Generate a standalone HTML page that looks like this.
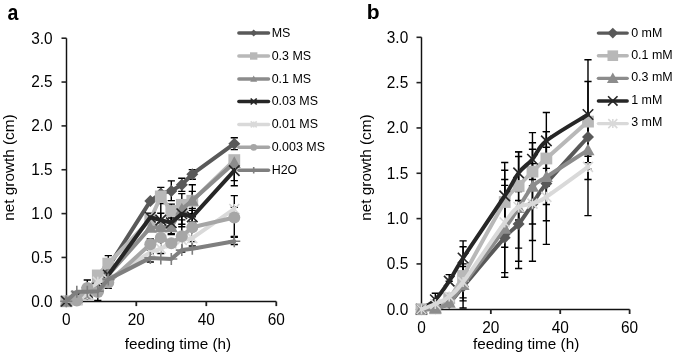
<!DOCTYPE html>
<html><head><meta charset="utf-8"><style>
html,body{margin:0;padding:0;background:#fff;width:685px;height:354px;overflow:hidden}
svg{display:block;will-change:transform}
</style></head><body>
<svg width="685" height="354" viewBox="0 0 685 354" font-family='"Liberation Sans", sans-serif' fill="#000">
<text transform="translate(7.5,19.75) scale(0.93,1.09)" font-size="21" font-weight="bold">a</text>
<text x="366.7" y="19.2" font-size="21" font-weight="bold">b</text>
<path d="M66.5,38.20V301.5H276.30" stroke="#111" stroke-width="1.45" fill="none"/>
<path d="M61.5,301.30H66.5" stroke="#222" stroke-width="1.6"/>
<text transform="translate(52.6,306.60) scale(1,1.07)" text-anchor="end" font-size="15.4">0.0</text>
<path d="M61.5,257.45H66.5" stroke="#222" stroke-width="1.6"/>
<text transform="translate(52.6,262.75) scale(1,1.07)" text-anchor="end" font-size="15.4">0.5</text>
<path d="M61.5,213.60H66.5" stroke="#222" stroke-width="1.6"/>
<text transform="translate(52.6,218.90) scale(1,1.07)" text-anchor="end" font-size="15.4">1.0</text>
<path d="M61.5,169.75H66.5" stroke="#222" stroke-width="1.6"/>
<text transform="translate(52.6,175.05) scale(1,1.07)" text-anchor="end" font-size="15.4">1.5</text>
<path d="M61.5,125.90H66.5" stroke="#222" stroke-width="1.6"/>
<text transform="translate(52.6,131.20) scale(1,1.07)" text-anchor="end" font-size="15.4">2.0</text>
<path d="M61.5,82.05H66.5" stroke="#222" stroke-width="1.6"/>
<text transform="translate(52.6,87.35) scale(1,1.07)" text-anchor="end" font-size="15.4">2.5</text>
<path d="M61.5,38.20H66.5" stroke="#222" stroke-width="1.6"/>
<text transform="translate(52.6,43.50) scale(1,1.07)" text-anchor="end" font-size="15.4">3.0</text>
<path d="M66.30,301.5V306.1" stroke="#222" stroke-width="1.8"/>
<text transform="translate(66.30,325.10) scale(1,1.07)" text-anchor="middle" font-size="15.4">0</text>
<path d="M136.30,301.5V306.1" stroke="#222" stroke-width="1.8"/>
<text transform="translate(136.30,325.10) scale(1,1.07)" text-anchor="middle" font-size="15.4">20</text>
<path d="M206.30,301.5V306.1" stroke="#222" stroke-width="1.8"/>
<text transform="translate(206.30,325.10) scale(1,1.07)" text-anchor="middle" font-size="15.4">40</text>
<path d="M276.30,301.5V306.1" stroke="#222" stroke-width="1.8"/>
<text transform="translate(276.30,325.10) scale(1,1.07)" text-anchor="middle" font-size="15.4">60</text>
<path d="M87.30,280.00V293.00M83.70,280.00H90.90M83.70,293.00H90.90" stroke="#000" stroke-width="1.4" fill="none"/>
<path d="M97.80,293.00V300.40M94.20,293.00H101.40M94.20,300.40H101.40" stroke="#000" stroke-width="1.4" fill="none"/>
<path d="M108.30,255.60V271.60M104.70,255.60H111.90M104.70,271.60H111.90" stroke="#000" stroke-width="1.4" fill="none"/>
<path d="M108.30,276.00V288.40M104.70,276.00H111.90M104.70,288.40H111.90" stroke="#000" stroke-width="1.4" fill="none"/>
<path d="M150.30,239.00V250.10M146.70,239.00H153.90M146.70,250.10H153.90" stroke="#000" stroke-width="1.4" fill="none"/>
<path d="M150.30,254.00V262.00M146.70,254.00H153.90M146.70,262.00H153.90" stroke="#000" stroke-width="1.4" fill="none"/>
<path d="M150.30,213.30V221.30M146.70,213.30H153.90M146.70,221.30H153.90" stroke="#000" stroke-width="1.4" fill="none"/>
<path d="M160.80,187.40V199.60M157.20,187.40H164.40M157.20,199.60H164.40" stroke="#000" stroke-width="1.4" fill="none"/>
<path d="M160.80,203.50V236.90M157.20,203.50H164.40M157.20,236.90H164.40" stroke="#000" stroke-width="1.4" fill="none"/>
<path d="M160.80,213.30V240.10M157.20,213.30H164.40M157.20,240.10H164.40" stroke="#000" stroke-width="1.4" fill="none"/>
<path d="M160.80,222.70V253.50M157.20,222.70H164.40M157.20,253.50H164.40" stroke="#000" stroke-width="1.4" fill="none"/>
<path d="M171.30,180.90V200.60M167.70,180.90H174.90M167.70,200.60H174.90" stroke="#000" stroke-width="1.4" fill="none"/>
<path d="M171.30,204.10V222.00M167.70,204.10H174.90M167.70,222.00H174.90" stroke="#000" stroke-width="1.4" fill="none"/>
<path d="M171.30,211.70V233.70M167.70,211.70H174.90M167.70,233.70H174.90" stroke="#000" stroke-width="1.4" fill="none"/>
<path d="M171.30,218.00V234.50M167.70,218.00H174.90M167.70,234.50H174.90" stroke="#000" stroke-width="1.4" fill="none"/>
<path d="M181.80,178.30V191.40M178.20,178.30H185.40M178.20,191.40H185.40" stroke="#000" stroke-width="1.4" fill="none"/>
<path d="M181.80,193.60V216.00M178.20,193.60H185.40M178.20,216.00H185.40" stroke="#000" stroke-width="1.4" fill="none"/>
<path d="M181.80,203.00V224.20M178.20,203.00H185.40M178.20,224.20H185.40" stroke="#000" stroke-width="1.4" fill="none"/>
<path d="M181.80,206.00V226.70M178.20,206.00H185.40M178.20,226.70H185.40" stroke="#000" stroke-width="1.4" fill="none"/>
<path d="M181.80,219.90V252.00M178.20,219.90H185.40M178.20,252.00H185.40" stroke="#000" stroke-width="1.4" fill="none"/>
<path d="M192.30,169.60V179.30M188.70,169.60H195.90M188.70,179.30H195.90" stroke="#000" stroke-width="1.4" fill="none"/>
<path d="M192.30,184.80V216.80M188.70,184.80H195.90M188.70,216.80H195.90" stroke="#000" stroke-width="1.4" fill="none"/>
<path d="M192.30,191.40V205.00M188.70,191.40H195.90M188.70,205.00H195.90" stroke="#000" stroke-width="1.4" fill="none"/>
<path d="M192.30,208.40V224.80M188.70,208.40H195.90M188.70,224.80H195.90" stroke="#000" stroke-width="1.4" fill="none"/>
<path d="M192.30,210.40V222.00M188.70,210.40H195.90M188.70,222.00H195.90" stroke="#000" stroke-width="1.4" fill="none"/>
<path d="M192.30,213.60V241.60M188.70,213.60H195.90M188.70,241.60H195.90" stroke="#000" stroke-width="1.4" fill="none"/>
<path d="M192.30,226.00V246.00M188.70,226.00H195.90M188.70,246.00H195.90" stroke="#000" stroke-width="1.4" fill="none"/>
<path d="M234.30,137.70V149.60M230.70,137.70H237.90M230.70,149.60H237.90" stroke="#000" stroke-width="1.4" fill="none"/>
<path d="M234.30,159.60V180.60M230.70,159.60H237.90M230.70,180.60H237.90" stroke="#000" stroke-width="1.4" fill="none"/>
<path d="M234.30,166.00V185.80M230.70,166.00H237.90M230.70,185.80H237.90" stroke="#000" stroke-width="1.4" fill="none"/>
<path d="M234.30,195.60V237.30M230.70,195.60H237.90M230.70,237.30H237.90" stroke="#000" stroke-width="1.4" fill="none"/>
<path d="M234.30,207.30V207.30M230.70,207.30H237.90M230.70,207.30H237.90" stroke="#000" stroke-width="1.4" fill="none"/>
<path d="M234.30,236.50V244.50M230.70,236.50H237.90M230.70,244.50H237.90" stroke="#000" stroke-width="1.4" fill="none"/>
<path d="M66.30,301.30L76.80,296.92L87.30,294.28L97.80,283.76L108.30,267.10L150.30,201.06L160.80,193.43L171.30,190.89L181.80,184.66L192.30,174.22L234.30,143.70" stroke="#595959" stroke-width="4" fill="none" stroke-linejoin="round" stroke-linecap="round"/>
<path d="M66.30,295.30L72.30,301.30L66.30,307.30L60.30,301.30Z" fill="#595959"/>
<path d="M76.80,290.92L82.80,296.92L76.80,302.92L70.80,296.92Z" fill="#595959"/>
<path d="M87.30,288.28L93.30,294.28L87.30,300.28L81.30,294.28Z" fill="#595959"/>
<path d="M97.80,277.76L103.80,283.76L97.80,289.76L91.80,283.76Z" fill="#595959"/>
<path d="M108.30,261.10L114.30,267.10L108.30,273.10L102.30,267.10Z" fill="#595959"/>
<path d="M150.30,195.06L156.30,201.06L150.30,207.06L144.30,201.06Z" fill="#595959"/>
<path d="M160.80,187.43L166.80,193.43L160.80,199.43L154.80,193.43Z" fill="#595959"/>
<path d="M171.30,184.89L177.30,190.89L171.30,196.89L165.30,190.89Z" fill="#595959"/>
<path d="M181.80,178.66L187.80,184.66L181.80,190.66L175.80,184.66Z" fill="#595959"/>
<path d="M192.30,168.22L198.30,174.22L192.30,180.22L186.30,174.22Z" fill="#595959"/>
<path d="M234.30,137.70L240.30,143.70L234.30,149.70L228.30,143.70Z" fill="#595959"/>
<path d="M66.30,301.30L76.80,299.55L87.30,292.53L97.80,275.43L108.30,263.59L150.30,219.74L160.80,196.41L171.30,210.97L181.80,204.83L192.30,200.80L234.30,160.10" stroke="#B8B8B8" stroke-width="4" fill="none" stroke-linejoin="round" stroke-linecap="round"/>
<rect x="60.40" y="295.40" width="11.80" height="11.80" fill="#B8B8B8"/>
<rect x="70.90" y="293.65" width="11.80" height="11.80" fill="#B8B8B8"/>
<rect x="81.40" y="286.63" width="11.80" height="11.80" fill="#B8B8B8"/>
<rect x="91.90" y="269.53" width="11.80" height="11.80" fill="#B8B8B8"/>
<rect x="102.40" y="257.69" width="11.80" height="11.80" fill="#B8B8B8"/>
<rect x="144.40" y="213.84" width="11.80" height="11.80" fill="#B8B8B8"/>
<rect x="154.90" y="190.51" width="11.80" height="11.80" fill="#B8B8B8"/>
<rect x="165.40" y="205.07" width="11.80" height="11.80" fill="#B8B8B8"/>
<rect x="175.90" y="198.93" width="11.80" height="11.80" fill="#B8B8B8"/>
<rect x="186.40" y="194.90" width="11.80" height="11.80" fill="#B8B8B8"/>
<rect x="228.40" y="154.20" width="11.80" height="11.80" fill="#B8B8B8"/>
<path d="M66.30,301.30L76.80,297.79L87.30,294.28L97.80,285.51L108.30,274.99L150.30,227.63L160.80,226.93L171.30,226.93L181.80,209.22L192.30,200.45L234.30,162.73" stroke="#8C8C8C" stroke-width="4" fill="none" stroke-linejoin="round" stroke-linecap="round"/>
<path d="M66.30,294.80L72.80,306.50L59.80,306.50Z" fill="#8C8C8C"/>
<path d="M76.80,291.29L83.30,302.99L70.30,302.99Z" fill="#8C8C8C"/>
<path d="M87.30,287.78L93.80,299.48L80.80,299.48Z" fill="#8C8C8C"/>
<path d="M97.80,279.01L104.30,290.71L91.30,290.71Z" fill="#8C8C8C"/>
<path d="M108.30,268.49L114.80,280.19L101.80,280.19Z" fill="#8C8C8C"/>
<path d="M150.30,221.13L156.80,232.83L143.80,232.83Z" fill="#8C8C8C"/>
<path d="M160.80,220.43L167.30,232.13L154.30,232.13Z" fill="#8C8C8C"/>
<path d="M171.30,220.43L177.80,232.13L164.80,232.13Z" fill="#8C8C8C"/>
<path d="M181.80,202.72L188.30,214.41L175.30,214.41Z" fill="#8C8C8C"/>
<path d="M192.30,193.95L198.80,205.65L185.80,205.65Z" fill="#8C8C8C"/>
<path d="M234.30,156.23L240.80,167.93L227.80,167.93Z" fill="#8C8C8C"/>
<path d="M66.30,301.30L76.80,296.04L87.30,292.53L97.80,288.15L108.30,274.99L150.30,217.28L160.80,220.18L171.30,222.72L181.80,213.78L192.30,216.84L234.30,170.63" stroke="#262626" stroke-width="4" fill="none" stroke-linejoin="round" stroke-linecap="round"/>
<path d="M61.05,296.05L71.55,306.55M71.55,296.05L61.05,306.55" stroke="#262626" stroke-width="1.6" fill="none"/>
<path d="M71.55,290.79L82.05,301.29M82.05,290.79L71.55,301.29" stroke="#262626" stroke-width="1.6" fill="none"/>
<path d="M82.05,287.28L92.55,297.78M92.55,287.28L82.05,297.78" stroke="#262626" stroke-width="1.6" fill="none"/>
<path d="M92.55,282.90L103.05,293.40M103.05,282.90L92.55,293.40" stroke="#262626" stroke-width="1.6" fill="none"/>
<path d="M103.05,269.74L113.55,280.24M113.55,269.74L103.05,280.24" stroke="#262626" stroke-width="1.6" fill="none"/>
<path d="M145.05,212.03L155.55,222.53M155.55,212.03L145.05,222.53" stroke="#262626" stroke-width="1.6" fill="none"/>
<path d="M155.55,214.93L166.05,225.43M166.05,214.93L155.55,225.43" stroke="#262626" stroke-width="1.6" fill="none"/>
<path d="M166.05,217.47L176.55,227.97M176.55,217.47L166.05,227.97" stroke="#262626" stroke-width="1.6" fill="none"/>
<path d="M176.55,208.53L187.05,219.03M187.05,208.53L176.55,219.03" stroke="#262626" stroke-width="1.6" fill="none"/>
<path d="M187.05,211.59L197.55,222.09M197.55,211.59L187.05,222.09" stroke="#262626" stroke-width="1.6" fill="none"/>
<path d="M229.05,165.38L239.55,175.88M239.55,165.38L229.05,175.88" stroke="#262626" stroke-width="1.6" fill="none"/>
<path d="M66.30,301.30L76.80,299.55L87.30,294.28L97.80,281.74L108.30,279.38L150.30,252.19L160.80,248.68L171.30,243.42L181.80,239.91L192.30,238.16L234.30,208.95" stroke="#D9D9D9" stroke-width="4" fill="none" stroke-linejoin="round" stroke-linecap="round"/>
<path d="M71.80,294.55L81.80,304.55M81.80,294.55L71.80,304.55M76.80,294.55L76.80,304.55" stroke="#D9D9D9" stroke-width="1.6" fill="none"/>
<path d="M82.30,289.28L92.30,299.28M92.30,289.28L82.30,299.28M87.30,289.28L87.30,299.28" stroke="#D9D9D9" stroke-width="1.6" fill="none"/>
<path d="M92.80,276.74L102.80,286.74M102.80,276.74L92.80,286.74M97.80,276.74L97.80,286.74" stroke="#D9D9D9" stroke-width="1.6" fill="none"/>
<path d="M103.30,274.38L113.30,284.38M113.30,274.38L103.30,284.38M108.30,274.38L108.30,284.38" stroke="#D9D9D9" stroke-width="1.6" fill="none"/>
<path d="M145.30,247.19L155.30,257.19M155.30,247.19L145.30,257.19M150.30,247.19L150.30,257.19" stroke="#D9D9D9" stroke-width="1.6" fill="none"/>
<path d="M155.80,243.68L165.80,253.68M165.80,243.68L155.80,253.68M160.80,243.68L160.80,253.68" stroke="#D9D9D9" stroke-width="1.6" fill="none"/>
<path d="M166.30,238.42L176.30,248.42M176.30,238.42L166.30,248.42M171.30,238.42L171.30,248.42" stroke="#D9D9D9" stroke-width="1.6" fill="none"/>
<path d="M176.80,234.91L186.80,244.91M186.80,234.91L176.80,244.91M181.80,234.91L181.80,244.91" stroke="#D9D9D9" stroke-width="1.6" fill="none"/>
<path d="M187.30,233.16L197.30,243.16M197.30,233.16L187.30,243.16M192.30,233.16L192.30,243.16" stroke="#D9D9D9" stroke-width="1.6" fill="none"/>
<path d="M229.30,203.95L239.30,213.95M239.30,203.95L229.30,213.95M234.30,203.95L234.30,213.95" stroke="#D9D9D9" stroke-width="1.6" fill="none"/>
<path d="M66.30,301.30L76.80,300.42L87.30,287.88L97.80,292.00L108.30,282.53L150.30,244.21L160.80,237.63L171.30,243.24L181.80,236.23L192.30,227.28L234.30,217.55" stroke="#A6A6A6" stroke-width="4" fill="none" stroke-linejoin="round" stroke-linecap="round"/>
<circle cx="76.80" cy="300.42" r="6.00" fill="#A6A6A6"/>
<circle cx="87.30" cy="287.88" r="6.00" fill="#A6A6A6"/>
<circle cx="97.80" cy="292.00" r="6.00" fill="#A6A6A6"/>
<circle cx="108.30" cy="282.53" r="6.00" fill="#A6A6A6"/>
<circle cx="150.30" cy="244.21" r="6.00" fill="#A6A6A6"/>
<circle cx="160.80" cy="237.63" r="6.00" fill="#A6A6A6"/>
<circle cx="171.30" cy="243.24" r="6.00" fill="#A6A6A6"/>
<circle cx="181.80" cy="236.23" r="6.00" fill="#A6A6A6"/>
<circle cx="192.30" cy="227.28" r="6.00" fill="#A6A6A6"/>
<circle cx="234.30" cy="217.55" r="6.00" fill="#A6A6A6"/>
<path d="M66.30,301.30L76.80,291.65L87.30,291.65L97.80,291.21L108.30,279.38L150.30,257.89L160.80,258.50L171.30,258.94L181.80,250.08L192.30,248.68L234.30,241.23" stroke="#7F7F7F" stroke-width="4" fill="none" stroke-linejoin="round" stroke-linecap="round"/>
<path d="M60.30,301.30L72.30,301.30M66.30,295.30L66.30,307.30" stroke="#7F7F7F" stroke-width="1.6" fill="none"/>
<path d="M70.80,291.65L82.80,291.65M76.80,285.65L76.80,297.65" stroke="#7F7F7F" stroke-width="1.6" fill="none"/>
<path d="M81.30,291.65L93.30,291.65M87.30,285.65L87.30,297.65" stroke="#7F7F7F" stroke-width="1.6" fill="none"/>
<path d="M91.80,291.21L103.80,291.21M97.80,285.21L97.80,297.21" stroke="#7F7F7F" stroke-width="1.6" fill="none"/>
<path d="M102.30,279.38L114.30,279.38M108.30,273.38L108.30,285.38" stroke="#7F7F7F" stroke-width="1.6" fill="none"/>
<path d="M144.30,257.89L156.30,257.89M150.30,251.89L150.30,263.89" stroke="#7F7F7F" stroke-width="1.6" fill="none"/>
<path d="M154.80,258.50L166.80,258.50M160.80,252.50L160.80,264.50" stroke="#7F7F7F" stroke-width="1.6" fill="none"/>
<path d="M165.30,258.94L177.30,258.94M171.30,252.94L171.30,264.94" stroke="#7F7F7F" stroke-width="1.6" fill="none"/>
<path d="M175.80,250.08L187.80,250.08M181.80,244.08L181.80,256.08" stroke="#7F7F7F" stroke-width="1.6" fill="none"/>
<path d="M186.30,248.68L198.30,248.68M192.30,242.68L192.30,254.68" stroke="#7F7F7F" stroke-width="1.6" fill="none"/>
<path d="M228.30,241.23L240.30,241.23M234.30,235.23L234.30,247.23" stroke="#7F7F7F" stroke-width="1.6" fill="none"/>
<path d="M238.9,33H268.5" stroke="#595959" stroke-width="3.5" stroke-linecap="round"/>
<path d="M253.70,29.50L257.20,33.00L253.70,36.50L250.20,33.00Z" fill="#595959"/>
<text x="271.7" y="36.70" font-size="12.45">MS</text>
<path d="M238.9,56H268.5" stroke="#B8B8B8" stroke-width="3.5" stroke-linecap="round"/>
<rect x="250.00" y="52.30" width="7.40" height="7.40" fill="#B8B8B8"/>
<text x="271.7" y="59.70" font-size="12.45">0.3 MS</text>
<path d="M238.9,79H268.5" stroke="#8C8C8C" stroke-width="3.5" stroke-linecap="round"/>
<path d="M253.70,75.50L257.20,81.80L250.20,81.80Z" fill="#8C8C8C"/>
<text x="271.7" y="82.70" font-size="12.45">0.1 MS</text>
<path d="M238.9,101.5H268.5" stroke="#262626" stroke-width="3.5" stroke-linecap="round"/>
<path d="M250.70,98.50L256.70,104.50M256.70,98.50L250.70,104.50" stroke="#262626" stroke-width="1.6" fill="none"/>
<text x="271.7" y="105.20" font-size="12.45">0.03 MS</text>
<path d="M238.9,124.4H268.5" stroke="#D9D9D9" stroke-width="3.5" stroke-linecap="round"/>
<path d="M250.70,121.40L256.70,127.40M256.70,121.40L250.70,127.40M253.70,121.40L253.70,127.40" stroke="#D9D9D9" stroke-width="1.6" fill="none"/>
<text x="271.7" y="128.10" font-size="12.45">0.01 MS</text>
<path d="M238.9,147.3H268.5" stroke="#A6A6A6" stroke-width="3.5" stroke-linecap="round"/>
<circle cx="253.70" cy="147.30" r="3.40" fill="#A6A6A6"/>
<text x="271.7" y="151.00" font-size="12.45">0.003 MS</text>
<path d="M238.9,170.2H268.5" stroke="#7F7F7F" stroke-width="3.5" stroke-linecap="round"/>
<path d="M250.45,170.20L256.95,170.20M253.70,166.95L253.70,173.45" stroke="#7F7F7F" stroke-width="1.6" fill="none"/>
<text x="271.7" y="173.90" font-size="12.45">H2O</text>
<text x="178" y="349" text-anchor="middle" font-size="15.3">feeding time (h)</text>
<text transform="translate(13.5,167.6) rotate(-90)" text-anchor="middle" font-size="15.3">net growth (cm)</text>
<path d="M421.5,37.30V309.4H629.62" stroke="#111" stroke-width="1.45" fill="none"/>
<path d="M416.5,309.25H421.5" stroke="#222" stroke-width="1.6"/>
<text transform="translate(408.2,314.55) scale(1,1.07)" text-anchor="end" font-size="15.4">0.0</text>
<path d="M416.5,263.93H421.5" stroke="#222" stroke-width="1.6"/>
<text transform="translate(408.2,269.23) scale(1,1.07)" text-anchor="end" font-size="15.4">0.5</text>
<path d="M416.5,218.60H421.5" stroke="#222" stroke-width="1.6"/>
<text transform="translate(408.2,223.90) scale(1,1.07)" text-anchor="end" font-size="15.4">1.0</text>
<path d="M416.5,173.27H421.5" stroke="#222" stroke-width="1.6"/>
<text transform="translate(408.2,178.57) scale(1,1.07)" text-anchor="end" font-size="15.4">1.5</text>
<path d="M416.5,127.95H421.5" stroke="#222" stroke-width="1.6"/>
<text transform="translate(408.2,133.25) scale(1,1.07)" text-anchor="end" font-size="15.4">2.0</text>
<path d="M416.5,82.62H421.5" stroke="#222" stroke-width="1.6"/>
<text transform="translate(408.2,87.92) scale(1,1.07)" text-anchor="end" font-size="15.4">2.5</text>
<path d="M416.5,37.30H421.5" stroke="#222" stroke-width="1.6"/>
<text transform="translate(408.2,42.60) scale(1,1.07)" text-anchor="end" font-size="15.4">3.0</text>
<path d="M421.45,309.4V314.0" stroke="#222" stroke-width="1.8"/>
<text transform="translate(421.45,333.05) scale(1,1.07)" text-anchor="middle" font-size="15.4">0</text>
<path d="M490.84,309.4V314.0" stroke="#222" stroke-width="1.8"/>
<text transform="translate(490.84,333.05) scale(1,1.07)" text-anchor="middle" font-size="15.4">20</text>
<path d="M560.23,309.4V314.0" stroke="#222" stroke-width="1.8"/>
<text transform="translate(560.23,333.05) scale(1,1.07)" text-anchor="middle" font-size="15.4">40</text>
<path d="M629.62,309.4V314.0" stroke="#222" stroke-width="1.8"/>
<text transform="translate(629.62,333.05) scale(1,1.07)" text-anchor="middle" font-size="15.4">60</text>
<path d="M435.33,293.30V303.70M431.73,293.30H438.93M431.73,303.70H438.93" stroke="#000" stroke-width="1.4" fill="none"/>
<path d="M449.21,274.60V281.20M445.61,274.60H452.81M445.61,281.20H452.81" stroke="#000" stroke-width="1.4" fill="none"/>
<path d="M463.08,240.90V275.30M459.48,240.90H466.68M459.48,275.30H466.68" stroke="#000" stroke-width="1.4" fill="none"/>
<path d="M463.08,246.80V300.90M459.48,246.80H466.68M459.48,300.90H466.68" stroke="#000" stroke-width="1.4" fill="none"/>
<path d="M463.08,263.90V297.90M459.48,263.90H466.68M459.48,297.90H466.68" stroke="#000" stroke-width="1.4" fill="none"/>
<path d="M463.08,266.50V308.00M459.48,266.50H466.68M459.48,308.00H466.68" stroke="#000" stroke-width="1.4" fill="none"/>
<path d="M504.72,162.50V229.30M501.12,162.50H508.32M501.12,229.30H508.32" stroke="#000" stroke-width="1.4" fill="none"/>
<path d="M504.72,170.30V233.70M501.12,170.30H508.32M501.12,233.70H508.32" stroke="#000" stroke-width="1.4" fill="none"/>
<path d="M504.72,179.50V272.60M501.12,179.50H508.32M501.12,272.60H508.32" stroke="#000" stroke-width="1.4" fill="none"/>
<path d="M504.72,185.40V247.30M501.12,185.40H508.32M501.12,247.30H508.32" stroke="#000" stroke-width="1.4" fill="none"/>
<path d="M504.72,197.90V277.30M501.12,197.90H508.32M501.12,277.30H508.32" stroke="#000" stroke-width="1.4" fill="none"/>
<path d="M518.60,151.90V191.50M515.00,151.90H522.20M515.00,191.50H522.20" stroke="#000" stroke-width="1.4" fill="none"/>
<path d="M518.60,151.90V220.00M515.00,151.90H522.20M515.00,220.00H522.20" stroke="#000" stroke-width="1.4" fill="none"/>
<path d="M518.60,156.50V268.50M515.00,156.50H522.20M515.00,268.50H522.20" stroke="#000" stroke-width="1.4" fill="none"/>
<path d="M518.60,200.50V248.10M515.00,200.50H522.20M515.00,248.10H522.20" stroke="#000" stroke-width="1.4" fill="none"/>
<path d="M518.60,210.00V261.30M515.00,210.00H522.20M515.00,261.30H522.20" stroke="#000" stroke-width="1.4" fill="none"/>
<path d="M532.47,132.60V185.80M528.87,132.60H536.07M528.87,185.80H536.07" stroke="#000" stroke-width="1.4" fill="none"/>
<path d="M532.47,142.70V261.30M528.87,142.70H536.07M528.87,261.30H536.07" stroke="#000" stroke-width="1.4" fill="none"/>
<path d="M532.47,149.30V224.00M528.87,149.30H536.07M528.87,224.00H536.07" stroke="#000" stroke-width="1.4" fill="none"/>
<path d="M532.47,167.90V240.50M528.87,167.90H536.07M528.87,240.50H536.07" stroke="#000" stroke-width="1.4" fill="none"/>
<path d="M532.47,163.60V179.50M528.87,163.60H536.07M528.87,179.50H536.07" stroke="#000" stroke-width="1.4" fill="none"/>
<path d="M546.35,112.50V168.40M542.75,112.50H549.95M542.75,168.40H549.95" stroke="#000" stroke-width="1.4" fill="none"/>
<path d="M546.35,131.60V186.00M542.75,131.60H549.95M542.75,186.00H549.95" stroke="#000" stroke-width="1.4" fill="none"/>
<path d="M546.35,131.60V220.80M542.75,131.60H549.95M542.75,220.80H549.95" stroke="#000" stroke-width="1.4" fill="none"/>
<path d="M546.35,147.30V244.40M542.75,147.30H549.95M542.75,244.40H549.95" stroke="#000" stroke-width="1.4" fill="none"/>
<path d="M546.35,162.00V204.50M542.75,162.00H549.95M542.75,204.50H549.95" stroke="#000" stroke-width="1.4" fill="none"/>
<path d="M587.99,59.80V169.30M584.39,59.80H591.59M584.39,169.30H591.59" stroke="#000" stroke-width="1.4" fill="none"/>
<path d="M587.99,81.50V162.60M584.39,81.50H591.59M584.39,162.60H591.59" stroke="#000" stroke-width="1.4" fill="none"/>
<path d="M587.99,117.70V156.30M584.39,117.70H591.59M584.39,156.30H591.59" stroke="#000" stroke-width="1.4" fill="none"/>
<path d="M587.99,120.70V179.50M584.39,120.70H591.59M584.39,179.50H591.59" stroke="#000" stroke-width="1.4" fill="none"/>
<path d="M587.99,118.40V215.60M584.39,118.40H591.59M584.39,215.60H591.59" stroke="#000" stroke-width="1.4" fill="none"/>
<path d="M421.45,309.25C423.76,309.10 430.70,309.40 435.33,308.34C439.95,307.29 444.58,306.53 449.21,302.90C453.83,299.28 453.83,297.47 463.08,286.59C472.34,275.71 495.47,248.06 504.72,237.64C513.97,227.21 513.97,229.63 518.60,224.04C523.22,218.45 527.85,210.86 532.47,204.10C537.10,197.33 537.10,194.61 546.35,183.43C555.60,172.25 581.05,144.75 587.99,137.01" stroke="#595959" stroke-width="4" fill="none" stroke-linejoin="round" stroke-linecap="round"/>
<path d="M421.45,303.25L427.45,309.25L421.45,315.25L415.45,309.25Z" fill="#595959"/>
<path d="M435.33,302.34L441.33,308.34L435.33,314.34L429.33,308.34Z" fill="#595959"/>
<path d="M449.21,296.90L455.21,302.90L449.21,308.90L443.21,302.90Z" fill="#595959"/>
<path d="M463.08,280.59L469.08,286.59L463.08,292.59L457.08,286.59Z" fill="#595959"/>
<path d="M504.72,231.64L510.72,237.64L504.72,243.64L498.72,237.64Z" fill="#595959"/>
<path d="M518.60,218.04L524.60,224.04L518.60,230.04L512.60,224.04Z" fill="#595959"/>
<path d="M532.47,198.10L538.47,204.10L532.47,210.10L526.47,204.10Z" fill="#595959"/>
<path d="M546.35,177.43L552.35,183.43L546.35,189.43L540.35,183.43Z" fill="#595959"/>
<path d="M587.99,131.01L593.99,137.01L587.99,143.01L581.99,137.01Z" fill="#595959"/>
<path d="M421.45,309.25C423.76,309.10 430.70,310.16 435.33,308.34C439.95,306.53 444.58,303.77 449.21,298.37C453.83,292.98 453.83,292.04 463.08,275.98C472.34,259.92 495.47,217.01 504.72,202.01C513.97,187.01 513.97,191.03 518.60,185.97C523.22,180.90 527.85,176.22 532.47,171.64C537.10,167.07 537.10,166.84 546.35,158.50C555.60,150.16 581.05,127.75 587.99,121.60" stroke="#B8B8B8" stroke-width="4" fill="none" stroke-linejoin="round" stroke-linecap="round"/>
<rect x="415.55" y="303.35" width="11.80" height="11.80" fill="#B8B8B8"/>
<rect x="429.43" y="302.44" width="11.80" height="11.80" fill="#B8B8B8"/>
<rect x="443.31" y="292.47" width="11.80" height="11.80" fill="#B8B8B8"/>
<rect x="457.18" y="270.08" width="11.80" height="11.80" fill="#B8B8B8"/>
<rect x="498.82" y="196.11" width="11.80" height="11.80" fill="#B8B8B8"/>
<rect x="512.70" y="180.07" width="11.80" height="11.80" fill="#B8B8B8"/>
<rect x="526.57" y="165.74" width="11.80" height="11.80" fill="#B8B8B8"/>
<rect x="540.45" y="152.60" width="11.80" height="11.80" fill="#B8B8B8"/>
<rect x="582.09" y="115.70" width="11.80" height="11.80" fill="#B8B8B8"/>
<path d="M421.45,309.25C423.76,309.10 430.70,309.48 435.33,308.34C439.95,307.21 444.58,306.38 449.21,302.45C453.83,298.52 453.83,297.09 463.08,284.77C472.34,272.46 495.47,241.41 504.72,228.57C513.97,215.73 513.97,214.73 518.60,207.72C523.22,200.71 527.85,191.65 532.47,186.51C537.10,181.37 537.10,182.97 546.35,176.90C555.60,170.83 581.05,154.54 587.99,150.07" stroke="#8C8C8C" stroke-width="4" fill="none" stroke-linejoin="round" stroke-linecap="round"/>
<path d="M421.45,302.75L427.95,314.45L414.95,314.45Z" fill="#8C8C8C"/>
<path d="M435.33,301.84L441.83,313.54L428.83,313.54Z" fill="#8C8C8C"/>
<path d="M449.21,295.95L455.71,307.65L442.71,307.65Z" fill="#8C8C8C"/>
<path d="M463.08,278.27L469.58,289.97L456.58,289.97Z" fill="#8C8C8C"/>
<path d="M504.72,222.07L511.22,233.77L498.22,233.77Z" fill="#8C8C8C"/>
<path d="M518.60,201.22L525.10,212.92L512.10,212.92Z" fill="#8C8C8C"/>
<path d="M532.47,180.01L538.97,191.71L525.97,191.71Z" fill="#8C8C8C"/>
<path d="M546.35,170.40L552.85,182.10L539.85,182.10Z" fill="#8C8C8C"/>
<path d="M587.99,143.57L594.49,155.27L581.49,155.27Z" fill="#8C8C8C"/>
<path d="M421.45,309.25C423.76,307.66 430.70,304.42 435.33,299.73C439.95,295.05 444.58,288.10 449.21,281.15C453.83,274.20 453.83,272.23 463.08,258.03C472.34,243.83 495.47,210.12 504.72,195.94C513.97,181.75 513.97,179.03 518.60,172.91C523.22,166.79 527.85,164.57 532.47,159.22C537.10,153.88 537.10,148.27 546.35,140.82C555.60,133.37 581.05,118.92 587.99,114.53" stroke="#262626" stroke-width="4" fill="none" stroke-linejoin="round" stroke-linecap="round"/>
<path d="M416.20,304.00L426.70,314.50M426.70,304.00L416.20,314.50" stroke="#262626" stroke-width="1.6" fill="none"/>
<path d="M430.08,294.48L440.58,304.98M440.58,294.48L430.08,304.98" stroke="#262626" stroke-width="1.6" fill="none"/>
<path d="M443.96,275.90L454.46,286.40M454.46,275.90L443.96,286.40" stroke="#262626" stroke-width="1.6" fill="none"/>
<path d="M457.83,252.78L468.33,263.28M468.33,252.78L457.83,263.28" stroke="#262626" stroke-width="1.6" fill="none"/>
<path d="M499.47,190.69L509.97,201.19M509.97,190.69L499.47,201.19" stroke="#262626" stroke-width="1.6" fill="none"/>
<path d="M513.35,167.66L523.85,178.16M523.85,167.66L513.35,178.16" stroke="#262626" stroke-width="1.6" fill="none"/>
<path d="M527.22,153.97L537.72,164.47M537.72,153.97L527.22,164.47" stroke="#262626" stroke-width="1.6" fill="none"/>
<path d="M541.10,135.57L551.60,146.07M551.60,135.57L541.10,146.07" stroke="#262626" stroke-width="1.6" fill="none"/>
<path d="M582.74,109.28L593.24,119.78M593.24,109.28L582.74,119.78" stroke="#262626" stroke-width="1.6" fill="none"/>
<path d="M421.45,309.25C423.76,308.37 430.70,306.11 435.33,303.99C439.95,301.88 444.58,300.22 449.21,296.56C453.83,292.90 453.83,294.40 463.08,282.06C472.34,269.71 495.47,235.01 504.72,222.50C513.97,209.99 513.97,210.14 518.60,207.00C523.22,203.85 527.85,205.33 532.47,203.64C537.10,201.95 537.10,202.96 546.35,196.84C555.60,190.73 581.05,171.92 587.99,166.93" stroke="#D9D9D9" stroke-width="4" fill="none" stroke-linejoin="round" stroke-linecap="round"/>
<path d="M416.45,304.25L426.45,314.25M426.45,304.25L416.45,314.25M421.45,304.25L421.45,314.25" stroke="#D9D9D9" stroke-width="1.6" fill="none"/>
<path d="M430.33,298.99L440.33,308.99M440.33,298.99L430.33,308.99M435.33,298.99L435.33,308.99" stroke="#D9D9D9" stroke-width="1.6" fill="none"/>
<path d="M444.21,291.56L454.21,301.56M454.21,291.56L444.21,301.56M449.21,291.56L449.21,301.56" stroke="#D9D9D9" stroke-width="1.6" fill="none"/>
<path d="M458.08,277.06L468.08,287.06M468.08,277.06L458.08,287.06M463.08,277.06L463.08,287.06" stroke="#D9D9D9" stroke-width="1.6" fill="none"/>
<path d="M499.72,217.50L509.72,227.50M509.72,217.50L499.72,227.50M504.72,217.50L504.72,227.50" stroke="#D9D9D9" stroke-width="1.6" fill="none"/>
<path d="M513.60,202.00L523.60,212.00M523.60,202.00L513.60,212.00M518.60,202.00L518.60,212.00" stroke="#D9D9D9" stroke-width="1.6" fill="none"/>
<path d="M527.47,198.64L537.47,208.64M537.47,198.64L527.47,208.64M532.47,198.64L532.47,208.64" stroke="#D9D9D9" stroke-width="1.6" fill="none"/>
<path d="M541.35,191.84L551.35,201.84M551.35,191.84L541.35,201.84M546.35,191.84L546.35,201.84" stroke="#D9D9D9" stroke-width="1.6" fill="none"/>
<path d="M582.99,161.93L592.99,171.93M592.99,161.93L582.99,171.93M587.99,161.93L587.99,171.93" stroke="#D9D9D9" stroke-width="1.6" fill="none"/>
<path d="M598.4,33.1H627.2" stroke="#595959" stroke-width="3.4" stroke-linecap="round"/>
<path d="M612.80,27.70L618.20,33.10L612.80,38.50L607.40,33.10Z" fill="#595959"/>
<text x="631.2" y="36.90" font-size="12.45">0 mM</text>
<path d="M598.4,55.7H627.2" stroke="#B8B8B8" stroke-width="3.4" stroke-linecap="round"/>
<rect x="607.49" y="50.39" width="10.62" height="10.62" fill="#B8B8B8"/>
<text x="631.2" y="59.10" font-size="12.45">0.1 mM</text>
<path d="M598.4,78.35H627.2" stroke="#8C8C8C" stroke-width="3.4" stroke-linecap="round"/>
<path d="M612.80,72.50L618.65,83.03L606.95,83.03Z" fill="#8C8C8C"/>
<text x="631.2" y="81.30" font-size="12.45">0.3 mM</text>
<path d="M598.4,100.95H627.2" stroke="#262626" stroke-width="3.4" stroke-linecap="round"/>
<path d="M608.07,96.23L617.52,105.67M617.52,96.23L608.07,105.67" stroke="#262626" stroke-width="1.6" fill="none"/>
<text x="631.2" y="103.50" font-size="12.45">1 mM</text>
<path d="M598.4,123.6H627.2" stroke="#D9D9D9" stroke-width="3.4" stroke-linecap="round"/>
<path d="M608.30,119.10L617.30,128.10M617.30,119.10L608.30,128.10M612.80,119.10L612.80,128.10" stroke="#D9D9D9" stroke-width="1.6" fill="none"/>
<text x="631.2" y="125.70" font-size="12.45">3 mM</text>
<text x="526.1" y="349" text-anchor="middle" font-size="15.3">feeding time (h)</text>
<text transform="translate(371.4,167.6) rotate(-90)" text-anchor="middle" font-size="15.3">net growth (cm)</text>
</svg>
</body></html>
